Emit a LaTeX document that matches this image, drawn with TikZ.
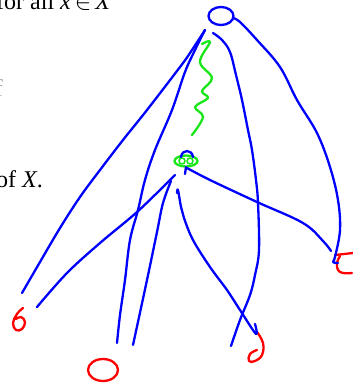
\documentclass[tikz,border=0pt]{standalone}
\usepackage{fontspec}
\setmainfont{Liberation Serif}
\usetikzlibrary{shapes.geometric}
\definecolor{penblue}{RGB}{0,0,255}
\definecolor{pengreen}{RGB}{25,230,25}
\definecolor{penred}{RGB}{255,0,0}
\begin{document}
\begin{tikzpicture}[x=1pt,y=-1pt,
  ink/.style={line width=2.3pt, line cap=round, line join=round},
  bl/.style={ink, draw=penblue},
  gr/.style={ink, draw=pengreen},
  rd/.style={ink, draw=penred},
  txt/.style={inner sep=0pt, font=\fontsize{24}{28}\selectfont}]
\useasboundingbox (0,0) rectangle (353,384);
\clip (0,0) rectangle (353,384);

% printed text (clipped at the page edges, as in the reference)
\node[txt, anchor=base west] (t1) at (-4,9) {for all \textit{x}\hspace{4pt}$\in$\hspace{4pt}\textit{X}};
\node[txt, anchor=base west] (t2) at (-4,187) {of \textit{X}.};
\node[txt, anchor=base east, text=black!35] (t3) at (3,96) {f};

% top node
\node[bl, ellipse, minimum width=25pt, minimum height=18pt, inner sep=0pt] (top) at (221,16) {};
\coordinate (topsw) at (205,30);
\coordinate (topse) at (213,33);
\coordinate (tope) at (233,18);

% green node
\node[gr, ellipse, minimum width=23pt, minimum height=11pt, inner sep=0pt] (g) at (186,161) {};
\draw[gr, line width=1.6pt] (182,161) circle (3) (190,161) circle (3);
\draw[bl] (181,157) .. controls (182,149) and (192,149) .. (193,157);
\draw[bl] (186,167) -- (185,174);
\coordinate (ga) at (187,168);
\coordinate (gb) at (175,175);
\coordinate (gc) at (171,181);
\coordinate (gd) at (178,190);

% red ends
\coordinate (rc) at (103,370);

\draw[rd] plot[smooth, tension=0.7] coordinates {(23,308) (17,314) (13,323) (16,330) (22,329) (25,322) (21,317) (16,319)};
\draw[rd] (rc) ellipse [x radius=15, y radius=11];
\draw[rd] plot[smooth, tension=0.7] coordinates {(257,332) (263,343) (262,355) (255,361) (249,361) (250,354) (257,350)};
\draw[rd] (335,255) -- (353,253);
\draw[rd] plot[smooth, tension=0.7] coordinates {(340,256) (337,263) (338,270) (343,273) (352,273)};

% green squiggle
\draw[gr] plot[smooth, tension=0.6] coordinates {(202,44) (210,42) (200,62) (212,78) (202,91) (208,98) (195,107) (203,117) (192,135)};

% blue strokes from top node
\draw[bl] plot[smooth, tension=0.6] coordinates {(topsw) (190,53) (180,67) (147,110) (123,140) (100,170) (80,197) (60,228) (40,262) (22,293)};
\draw[bl] plot[smooth, tension=0.6] coordinates {(topsw) (195,50) (185,72) (172,110) (155,150) (145,180) (138,210) (130,240) (125,280) (120,315) (117,343)};
\draw[bl] plot[smooth, tension=0.6] coordinates {(topse) (222,40) (230,52) (236,75) (242,100) (248,130) (252,150) (256,180) (258,203) (259,250) (255,275) (250,295) (240,320) (231,346)};
\draw[bl] plot[smooth, tension=0.6] coordinates {(tope) (240,22) (257,40) (280,67) (297,100) (317,133) (330,167) (338,200) (340,230) (335,257) (333,262) (338,263)};

% blue strokes from green node
\draw[bl] plot[smooth, tension=0.6] coordinates {(ga) (210,180) (257,202) (303,223) (323,241) (331,251)};
\draw[bl] plot[smooth, tension=0.6] coordinates {(gb) (170,180) (137,212) (100,243) (67,273) (37,307)};
\draw[bl] plot[smooth, tension=0.6] coordinates {(gc) (163,203) (157,232) (147,280) (133,345)};
\draw[bl] plot[smooth, tension=0.6] coordinates {(177,193) (gd) (181,207) (184,218) (193,240) (210,267) (227,290) (240,310) (256,334) (255,324)};
\end{tikzpicture}
\end{document}
